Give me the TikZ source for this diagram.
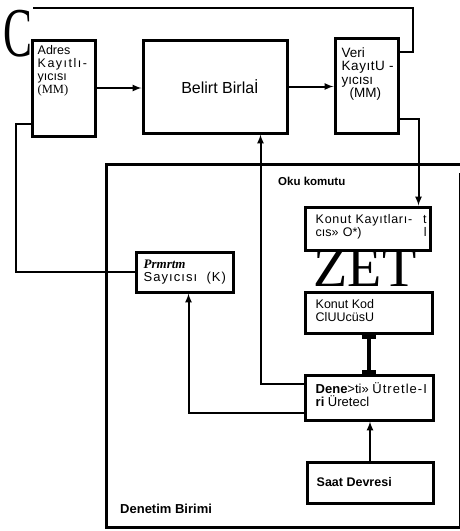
\documentclass[tikz,border=0pt]{standalone}
\usepackage{fontspec}
\setmainfont{Liberation Serif}
\setsansfont{Liberation Sans}
\usetikzlibrary{arrows.meta}
\begin{document}
\begin{tikzpicture}[x=1pt,y=-1pt,
    box/.style={draw, line width=3pt, inner sep=0pt},
    conn/.style={line width=2pt},
    arr/.style={line width=2pt, -latex},
    lbl/.style={font=\sffamily\fontsize{12.5}{13}\selectfont, align=left, inner sep=0pt, anchor=north west},
    bold lbl/.style={lbl, font=\sffamily\bfseries\fontsize{11.5}{12}\selectfont}]
    \useasboundingbox (0,0) rectangle (460,531);

    % ust sira
    \node[box, minimum width=63pt, minimum height=96pt] (adres) at (63.5,88) {};
    \node[box, minimum width=144pt, minimum height=93pt] (belirt) at (215,86.5) {};
    \node[box, minimum width=63pt, minimum height=95pt] (veri) at (366.5,85.5) {};
    \node[inner sep=0pt, font=\rmfamily\fontsize{70}{70}\selectfont] (cl) at (18,34) {\scalebox{0.62}[1]{C}};
    \coordinate (tr) at (413,8);

    % denetim birimi
    \draw[line width=3pt] (460,164) -- (106,164) -- (106,527) -- (460,527);
    \draw[line width=0.8pt] (459,173) -- (459,527);

    \node[box, minimum width=125pt, minimum height=43pt] (kk) at (367.5,228.5) {};
    \node[box, minimum width=127pt, minimum height=41pt] (kod) at (368.5,312.5) {};
    \node[box, minimum width=128pt, minimum height=45pt] (ur) at (369,397.5) {};
    \node[box, minimum width=126pt, minimum height=41pt] (saat) at (370,482.5) {};
    \node[box, minimum width=97pt, minimum height=40pt] (pr) at (184.5,272) {};
    \node[inner sep=0pt, font=\rmfamily\fontsize{56}{56}\selectfont] (zet) at (365,268) {ZET};

    % yazilar
    \node[lbl, font=\sffamily\fontsize{6}{6}\selectfont] at (33,47) {i};
    \node[lbl] at ([shift={(7,7)}]adres.north west)
        {Adres\\{\addfontfeatures{LetterSpace=12}Kayıtlı-}\\yıcısı\\{\rmfamily (MM)}};
    \node[font=\sffamily\fontsize{16}{16}\selectfont, inner sep=0pt] at ([xshift=5pt]belirt.center) {Belirt Birlaİ};
    \node[lbl, font=\sffamily\fontsize{13.5}{13.5}\selectfont] at ([shift={(8,11)}]veri.north west)
        {Veri\\{\addfontfeatures{LetterSpace=4}KayıtU -}\\yıcısı\\\hspace{8pt}(MM)};
    \node[bold lbl, font=\sffamily\bfseries\fontsize{11.5}{12}\selectfont] at (278,177) {Oku komutu};
    \node[lbl, text width=111pt] at ([shift={(12,9)}]kk.north west)
        {{\addfontfeatures{LetterSpace=6}Konut Kayıtları-}\hfill t\\cıs» O*)\hfill l};
    \node[lbl] at ([shift={(12,9)}]kod.north west) {Konut Kod\\ClUUcüsU};
    \node[lbl, font=\sffamily\fontsize{13}{13}\selectfont] at ([shift={(12,9)}]ur.north west)
        {\textbf{Dene}>ti» {\addfontfeatures{LetterSpace=8}Ütretle-I}\\\textbf{ri} Üretecl};
    \node[lbl, font=\sffamily\fontsize{13}{13}\selectfont] at ([shift={(9,9)}]pr.north west)
        {{\rmfamily\bfseries\itshape Prmrtm}\\{\addfontfeatures{LetterSpace=8}Sayıcısı ~(K)}};
    \node[bold lbl, anchor=west, font=\sffamily\bfseries\fontsize{12.5}{13}\selectfont] at ([xshift=11pt]saat.west) {Saat Devresi};
    \node[bold lbl, font=\sffamily\bfseries\fontsize{13}{13}\selectfont] at (120,504) {Denetim Birimi};

    % baglantilar
    \draw[arr] (adres.east) -- (belirt.west |- adres.east);
    \draw[arr] (belirt.east) -- (veri.west |- belirt.east);
    \draw[conn] ([yshift=-15pt]veri.north east) -| (tr) -- (cl.north east |- tr);
    \draw[arr] ([yshift=16pt]veri.south east) -| ([xshift=-13pt]kk.north east);
    \draw[arr] ([yshift=-10pt]ur.north west) -| ([xshift=-28pt]belirt.south east);
    \draw[arr] ([yshift=9pt]ur.south west) -| ([xshift=4pt]pr.south);
    \draw[conn] (pr.west) -- ++(-119,0) |- ([yshift=14pt]adres.south west);
    \draw[line width=4pt, {Bar[width=14pt]}-{Bar[width=14pt]}] (kod.south) -- (kod.south |- ur.north);
    \draw[arr] (saat.north) -- (saat.north |- ur.south);
\end{tikzpicture}
\end{document}
